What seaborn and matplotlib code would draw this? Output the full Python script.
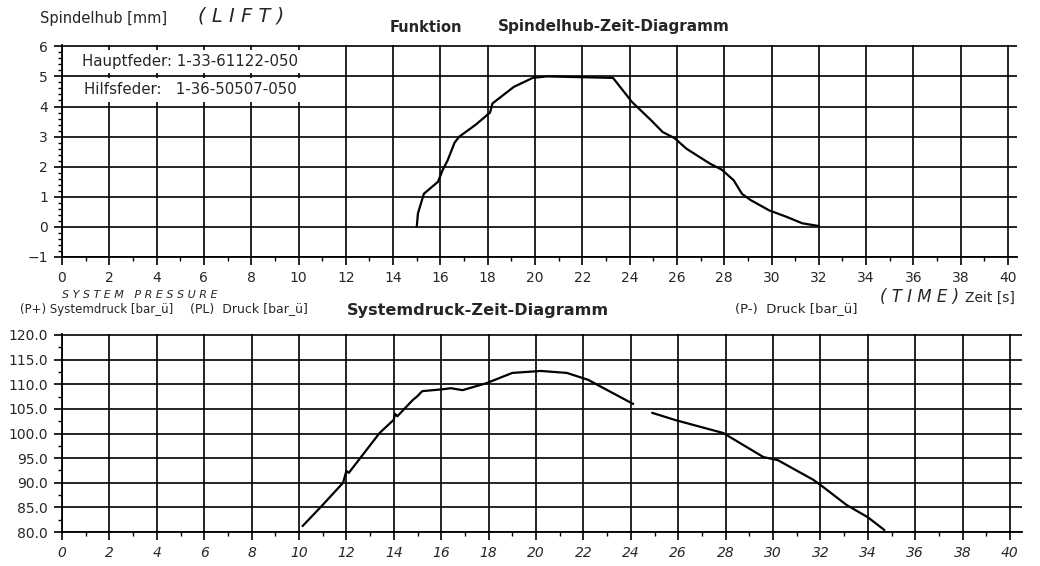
import numpy as np
import pandas as pd
import matplotlib
matplotlib.use('Agg')
import matplotlib.pyplot as plt
import seaborn as sns
from matplotlib.ticker import MultipleLocator, FormatStrFormatter

# Spindelhub (lift) over time
lift_t = [15.0, 15.05, 15.3, 15.9, 16.1, 16.3, 16.6, 16.8, 17.5, 18.1, 18.2, 19.1, 19.9, 20.5,
          23.3, 23.7, 24.1, 24.9, 25.4, 25.9, 26.4, 27.4, 27.9, 28.4, 28.75, 29.1, 29.9,
          30.65, 31.3, 32.0]
lift_mm = [0.0, 0.45, 1.1, 1.5, 1.9, 2.2, 2.8, 3.0, 3.4, 3.8, 4.1, 4.65, 4.95, 5.0,
           4.95, 4.55, 4.15, 3.55, 3.15, 2.95, 2.6, 2.1, 1.9, 1.55, 1.1, 0.9, 0.55,
           0.33, 0.12, 0.03]

# Systemdruck over time (two traced pieces, small gap after 24 s)
press_t = [10.15, 11.0, 11.86, 12.0, 12.1, 13.4, 14.0, 14.05, 14.15, 14.8, 15.0, 15.2, 16.1,
           16.4, 16.9, 17.9, 19.0, 20.2, 21.3, 22.2, 22.7, 24.1,
           24.9, 25.9, 27.9, 29.6, 30.2, 31.7, 32.1, 33.1, 34.0, 34.7]
press_bar = [81.2, 85.5, 90.0, 92.4, 92.0, 100.1, 102.8, 104.0, 103.5, 106.8, 107.6, 108.6, 109.0,
             109.2, 108.8, 110.2, 112.3, 112.7, 112.3, 110.9, 109.6, 106.0,
             104.2, 102.7, 100.1, 95.2, 94.6, 90.6, 89.2, 85.5, 83.0, 80.4]
press_seg = [0] * 22 + [1] * 10

lift_ticks = list(range(-1, 7))
press_ticks = [80, 85, 90, 95, 100, 105, 110, 115, 120]
time_ticks = list(range(0, 41, 2))

W, H = 1040, 566

sns.set_style('ticks')
plt.rcParams['font.family'] = ['DejaVu Sans']

fig = plt.figure(figsize=(W / 100, H / 100), dpi=100)

def fx(px):
    return px / W

def fy(py):
    return 1 - py / H

ax1 = fig.add_axes([fx(62), fy(257), 40.4 * 23.65 / W, 7.05 * 30.1 / H])
ax2 = fig.add_axes([fx(62), fy(532), 40.5 * 23.7 / W, 40.3 * 4.925 / H])

lift_df = pd.DataFrame({'t': lift_t, 'mm': lift_mm})
press_df = pd.DataFrame({'t': press_t, 'bar': press_bar, 'seg': press_seg})

sns.lineplot(data=lift_df, x='t', y='mm', ax=ax1, color='black', lw=1.6,
             estimator=None, sort=False)
sns.lineplot(data=press_df, x='t', y='bar', units='seg', ax=ax2, color='black', lw=1.6,
             estimator=None, sort=False)

for ax in (ax1, ax2):
    ax.set_facecolor('white')
    for s in ('top', 'right'):
        ax.spines[s].set_visible(False)
    for s in ('left', 'bottom'):
        ax.spines[s].set_color('black')
        ax.spines[s].set_linewidth(1.3)
    ax.set_xticks(time_ticks)
    ax.xaxis.set_minor_locator(MultipleLocator(1))
    ax.grid(which='major', color='black', lw=1.2)
    ax.tick_params(which='major', direction='out', length=6, width=1.2, color='black',
                   labelsize=10, pad=4)
    ax.tick_params(which='minor', direction='out', length=3, width=1.0, color='black')
    ax.set_xlabel('')
    ax.set_ylabel('')
    ax.set_axisbelow(True)

ax1.set_xlim(0, 40.4)
ax1.set_ylim(-1, 6.05)
ax1.set_yticks(lift_ticks)
ax1.yaxis.set_minor_locator(MultipleLocator(0.2))

ax2.set_xlim(0, 40.5)
ax2.set_ylim(80, 120.3)
ax2.set_yticks(press_ticks)
ax2.yaxis.set_minor_locator(MultipleLocator(2.5))
ax2.yaxis.set_major_formatter(FormatStrFormatter('%.1f'))
for lab in ax2.get_xticklabels():
    lab.set_fontstyle('italic')

# spring labels inside the lift chart
box = dict(facecolor='white', edgecolor='none', pad=3)
ax1.text(0.85, 5.5, 'Hauptfeder: 1-33-61122-050', fontsize=10.8, va='center', bbox=box)
ax1.text(0.95, 4.55, 'Hilfsfeder:   1-36-50507-050', fontsize=10.8, va='center', bbox=box)

# header texts
fig.text(fx(40), fy(18), 'Spindelhub [mm]', fontsize=10.5, va='center')
fig.text(fx(198), fy(16), '( L I F T )', fontsize=14, style='italic', va='center')
fig.text(fx(390), fy(27), 'Funktion', fontsize=10.5, weight='bold', va='center')
fig.text(fx(498), fy(27), 'Spindelhub-Zeit-Diagramm', fontsize=11, weight='bold', va='center')

fig.text(fx(62), fy(295), 'S Y S T E M   P R E S S U R E', fontsize=8, style='italic', va='center')
fig.text(fx(20), fy(309), '(P+) Systemdruck [bar_ü]', fontsize=8.5, va='center')
fig.text(fx(190), fy(309), '(PL)  Druck [bar_ü]', fontsize=9, va='center')
fig.text(fx(347), fy(310), 'Systemdruck-Zeit-Diagramm', fontsize=11.6, weight='bold', va='center')
fig.text(fx(735), fy(309), '(P-)  Druck [bar_ü]', fontsize=9.5, va='center')
fig.text(fx(880), fy(297), '( T I M E )', fontsize=12, style='italic', va='center')
fig.text(fx(965), fy(298), 'Zeit [s]', fontsize=10, va='center')

fig.savefig('out.png', dpi=100, facecolor='white')
